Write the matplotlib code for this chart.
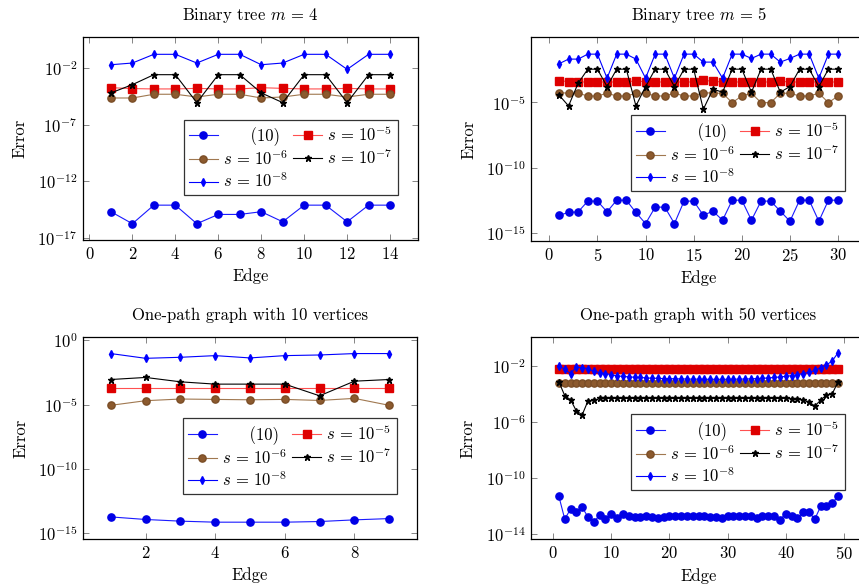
import numpy as np
import matplotlib
matplotlib.use("Agg")
import matplotlib.pyplot as plt
from matplotlib.ticker import FixedLocator, NullLocator, LogFormatterSciNotation

plt.rcParams['font.family'] = ['cmr10', 'DejaVu Serif']
plt.rcParams['mathtext.fontset'] = 'cm'
plt.rcParams['axes.formatter.use_mathtext'] = True
plt.rcParams['axes.unicode_minus'] = True

# ---------------- data (log10 of errors) ----------------
# Binary tree m = 4 (edges 1..14)
p1_edges = list(range(1, 15))
p1_eq = [-14.7, -15.76, -14.12, -14.12, -15.76, -14.94, -14.94, -14.7, -15.59, -14.12, -14.12, -15.59, -14.12, -14.12]
p1_s5 = [-3.74, -3.82, -3.85, -3.85, -3.8, -3.85, -3.85, -3.74, -3.8, -3.85, -3.85, -3.8, -3.85, -3.85]
p1_s6 = [-4.65, -4.65, -4.32, -4.32, -4.56, -4.32, -4.32, -4.65, -4.56, -4.32, -4.32, -4.56, -4.32, -4.32]
p1_s7 = [-4.2, -3.47, -2.59, -2.59, -5.06, -2.59, -2.59, -4.2, -5.06, -2.59, -2.59, -5.06, -2.59, -2.59]
p1_s8 = [-1.71, -1.56, -0.79, -0.79, -1.56, -0.79, -0.79, -1.71, -1.56, -0.79, -0.79, -2.12, -0.79, -0.79]

# Binary tree m = 5 (edges 1..30)
p2_edges = list(range(1, 31))
p2_eq = [-13.64, -13.43, -13.38, -12.56, -12.56, -13.38, -12.49, -12.49, -13.43, -14.28,
         -13.02, -13.02, -14.28, -12.56, -12.56, -13.64, -13.33, -14.02, -12.49, -12.49,
         -14.02, -12.56, -12.56, -13.33, -14.1, -12.49, -12.49, -14.1, -12.49, -12.49]
p2_s5 = [-3.35, -3.42, -3.45, -3.45, -3.45, -3.45, -3.45, -3.45, -3.35, -3.45,
         -3.45, -3.45, -3.45, -3.45, -3.45, -3.32, -3.40, -3.45, -3.45, -3.45,
         -3.45, -3.45, -3.45, -3.40, -3.45, -3.45, -3.45, -3.45, -3.45, -3.45]
p2_s6 = [-4.26, -4.31, -4.31, -4.52, -4.52, -4.31, -4.52, -4.52, -4.31, -4.31,
         -4.52, -4.52, -4.31, -4.52, -4.52, -4.26, -4.31, -4.31, -5.03, -4.52,
         -4.31, -5.03, -5.03, -4.31, -4.31, -4.52, -4.52, -4.31, -5.03, -4.52]
p2_s7 = [-4.44, -5.28, -3.54, -2.47, -2.47, -3.80, -2.47, -2.47, -5.28, -3.80,
         -2.47, -2.47, -3.80, -2.47, -2.47, -5.54, -4.0, -4.23, -2.47, -2.47,
         -4.23, -2.47, -2.47, -4.23, -3.80, -2.47, -2.47, -3.80, -2.47, -2.47]
p2_s8 = [-2.06, -1.70, -1.70, -1.32, -1.32, -3.16, -1.32, -1.32, -1.70, -3.16,
         -1.32, -1.32, -3.16, -1.32, -1.32, -1.93, -1.93, -3.16, -1.32, -1.32,
         -1.65, -1.32, -1.32, -1.93, -1.65, -1.32, -1.32, -3.16, -1.32, -1.32]

# One-path graph with 10 vertices (edges 1..9)
p3_edges = list(range(1, 10))
p3_eq = [-13.75, -13.95, -14.08, -14.16, -14.16, -14.16, -14.11, -13.98, -13.88]
p3_s5 = [-3.72, -3.72, -3.72, -3.72, -3.72, -3.72, -3.72, -3.72, -3.72]
p3_s6 = [-5.06, -4.70, -4.57, -4.60, -4.63, -4.60, -4.68, -4.52, -5.06]
p3_s7 = [-3.05, -2.89, -3.23, -3.41, -3.41, -3.41, -4.32, -3.18, -3.05]
p3_s8 = [-1.03, -1.40, -1.32, -1.19, -1.37, -1.19, -1.14, -1.03, -1.03]

# One-path graph with 50 vertices (edges 1..49)
p4_edges = list(range(1, 50))
p4_eq = [-11.33, -12.95, -12.24, -12.48, -12.10, -12.81, -13.19, -12.64, -12.95, -12.57,
         -12.88, -12.57, -12.76, -12.81, -12.81, -12.76, -12.81, -12.88, -12.81, -12.71,
         -12.76, -12.76, -12.76, -12.76, -12.76, -12.76, -12.81, -12.81, -12.88, -12.71,
         -12.76, -12.71, -12.76, -12.76, -12.88, -12.71, -12.71, -12.76, -13.00, -12.57,
         -12.76, -12.88, -12.48, -12.48, -12.95, -12.05, -12.00, -11.81, -11.29]
p4_s5 = [-2.17] * 49
p4_s6 = [-3.17] * 49
p4_s7 = [-3.12, -4.10, -4.40, -5.20, -5.48, -4.48, -4.45, -4.30, -4.30, -4.30,
         -4.30, -4.30, -4.30, -4.30, -4.30, -4.30, -4.30, -4.30, -4.30, -4.30,
         -4.30, -4.30, -4.30, -4.30, -4.30, -4.30, -4.30, -4.30, -4.30, -4.30,
         -4.30, -4.30, -4.30, -4.30, -4.30, -4.30, -4.30, -4.30, -4.30, -4.30,
         -4.32, -4.35, -4.42, -4.55, -4.85, -4.43, -4.05, -3.97, -3.10]
p4_s8 = [-1.98, -2.21, -2.52, -2.05, -2.10, -2.17, -2.36, -2.45, -2.52, -2.60,
         -2.69, -2.72, -2.76, -2.78, -2.80, -2.83, -2.85, -2.86, -2.88, -2.88,
         -2.90, -2.90, -2.91, -2.92, -2.92, -2.93, -2.93, -2.93, -2.93, -2.93,
         -2.92, -2.92, -2.91, -2.90, -2.88, -2.86, -2.83, -2.80, -2.76, -2.72,
         -2.67, -2.60, -2.52, -2.43, -2.30, -2.10, -1.90, -1.62, -1.02]

titles = [r"Binary tree $m\,=\,4$", r"Binary tree $m\,=\,5$",
          "One-path graph with 10 vertices", "One-path graph with 50 vertices"]
labels = ["(10)", r"$s\,=\,10^{-5}$", r"$s\,=\,10^{-6}$", r"$s\,=\,10^{-7}$", r"$s\,=\,10^{-8}$"]

panels = [
    dict(x=p1_edges, ys=[p1_eq, p1_s5, p1_s6, p1_s7, p1_s8],
         xlim=(-0.3, 15.3), ylog=(-17.2, 0.74), xt=[0, 2, 4, 6, 8, 10, 12, 14],
         yt=[-17, -12, -7, -2], pos=(83, 37, 335, 203)),
    dict(x=p2_edges, ys=[p2_eq, p2_s5, p2_s6, p2_s7, p2_s8],
         xlim=(-1.9, 32.9), ylog=(-15.61, -0.01), xt=[0, 5, 10, 15, 20, 25, 30],
         yt=[-15, -10, -5], pos=(531, 37, 335, 204)),
    dict(x=p3_edges, ys=[p3_eq, p3_s5, p3_s6, p3_s7, p3_s8],
         xlim=(0.2, 9.8), ylog=(-15.47, 0.26), xt=[2, 4, 6, 8],
         yt=[-15, -10, -5, 0], pos=(83, 337, 334, 202)),
    dict(x=p4_edges, ys=[p4_eq, p4_s5, p4_s6, p4_s7, p4_s8],
         xlim=(-3.8, 53.8), ylog=(-14.38, 0.10), xt=[0, 10, 20, 30, 40, 50],
         yt=[-14, -10, -6, -2], pos=(531, 337, 335, 202)),
]
legend_anchor = [(0.94, 0.22), (0.937, 0.245), (0.94, 0.223), (0.937, 0.243)]

styles = [
    dict(color='#1a1aff', marker='o', ms=5.2, mfc='#0000e6', mec='#0000e6', lw=0.8),
    dict(color='#ff5050', marker='s', ms=5.4, mfc='#dd0000', mec='#e00000', lw=0.8),
    dict(color='#a07850', marker='o', ms=5.2, mfc='#8c5a2e', mec='#7a4d26', lw=0.8),
    dict(color='black', marker='*', ms=5.0, mfc='black', mec='black', lw=0.8),
    dict(color='#0000ff', marker='d', ms=4.2, mfc='#0000ff', mec='#0000ff', lw=0.8),
]

W, H = 859, 587
fig = plt.figure(figsize=(W / 100, H / 100), dpi=100)
FS = 12

for i, p in enumerate(panels):
    l, t, w, h = p['pos']
    ax = fig.add_axes([l / W, (H - t - h) / H, w / W, h / H])
    handles = []
    for ys, st, lab in zip(p['ys'], styles, labels):
        ln, = ax.plot(p['x'], 10.0 ** np.array(ys), label=lab, **st)
        handles.append(ln)
    ax.set_yscale('log')
    ax.set_xlim(*p['xlim'])
    ax.set_ylim(10.0 ** p['ylog'][0], 10.0 ** p['ylog'][1])
    ax.yaxis.set_major_locator(FixedLocator([10.0 ** e for e in p['yt']]))
    ax.yaxis.set_minor_locator(NullLocator())
    ax.yaxis.set_major_formatter(LogFormatterSciNotation())
    ax.set_xticks(p['xt'])
    ax.tick_params(direction='in', top=True, right=True, length=4, width=0.5,
                   color='#555555', labelsize=FS, pad=4)
    for sp in ax.spines.values():
        sp.set_linewidth(0.9)
    ax.set_title(titles[i], fontsize=FS, pad=12)
    ax.set_xlabel("Edge", fontsize=FS, labelpad=5)
    ax.set_ylabel("Error", fontsize=FS, labelpad=7)
    order = [0, 2, 4, 1, 3]
    hl = [handles[k] for k in order]
    ll = [labels[k] for k in order]
    ll = ["     (10)" if s == "(10)" else s for s in ll]
    leg = ax.legend(hl, ll, ncol=2, loc='lower right', bbox_to_anchor=legend_anchor[i],
                    fontsize=FS, frameon=True, fancybox=False, framealpha=1,
                    edgecolor='#333333', handlelength=1.75, handletextpad=0.3,
                    columnspacing=0.3, labelspacing=0.2, borderpad=0.3,
                    borderaxespad=0.0)
    leg.get_frame().set_linewidth(0.9)

fig.savefig("out.png", dpi=100)
